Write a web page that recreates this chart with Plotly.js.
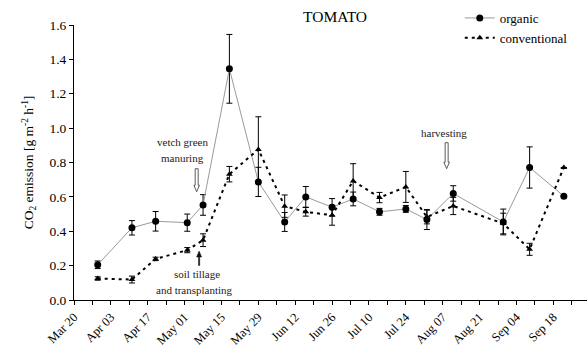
<!DOCTYPE html>
<html>
<head>
<meta charset="utf-8">
<script src="https://cdn.plot.ly/plotly-3.0.1.min.js"></script>
<style>html,body{margin:0;padding:0;background:#fff;}#chart{width:587px;height:354px;}</style>
</head>
<body>
<div id="chart"></div>
<script>
// Sampling dates
const organicDates = ['2009-03-29','2009-04-11','2009-04-20','2009-05-02','2009-05-08','2009-05-18','2009-05-29','2009-06-08','2009-06-16','2009-06-26','2009-07-04','2009-07-14','2009-07-24','2009-08-01','2009-08-11','2009-08-30','2009-09-09','2009-09-22'];
const organicValues = [0.205,0.42,0.458,0.45,0.553,1.345,0.687,0.454,0.600,0.540,0.588,0.513,0.530,0.468,0.620,0.454,0.771,0.604];
const organicErrors = [0.022,0.042,0.057,0.05,0.06,0.20,0.085,0.055,0.06,0.05,0.04,0.02,0.02,0.058,0.045,0.075,0.12,0];

const conventionalDates = organicDates;
const conventionalValues = [0.125,0.119,0.239,0.290,0.348,0.732,0.876,0.546,0.513,0.493,0.693,0.596,0.658,0.483,0.547,0.445,0.295,0.771];
const conventionalErrors = [0.01,0.02,0.01,0.015,0.037,0.045,0.19,0.065,0.025,0.058,0.10,0.03,0.09,0.04,0.05,0.06,0.035,0];

const yTicks = [0,0.2,0.4,0.6,0.8,1.0,1.2,1.4,1.6];

const font = "'Liberation Serif', 'Times New Roman', serif";

const traces = [
  {
    x: organicDates, y: organicValues, name: 'organic', type: 'scatter', mode: 'lines+markers',
    line: {color: '#9a9a9a', width: 1},
    marker: {symbol: 'circle', size: 7, color: '#000'},
    error_y: {type: 'data', array: organicErrors, visible: true, color: '#000', thickness: 1, width: 3}
  },
  {
    x: conventionalDates, y: conventionalValues, name: 'conventional', type: 'scatter', mode: 'lines+markers',
    line: {color: '#000', width: 2, dash: '3px,4px'},
    marker: {symbol: 'triangle-up', size: 6, color: '#000'},
    error_y: {type: 'data', array: conventionalErrors, visible: true, color: '#000', thickness: 1, width: 3}
  }
];

const noteFont = {family: font, size: 11, color: '#222'};
function note(text, x, y) {
  return {text: text, xref: 'x', yref: 'y', x: x, y: y, xanchor: 'center', yanchor: 'middle', showarrow: false, font: noteFont};
}
const hollowArrow = (len) => `M -1.5,${len} L 1.5,${len} L 1.5,6.5 L 2.8,6.5 L 0,0 L -2.8,6.5 L -1.5,6.5 Z`;

const layout = {
  width: 587, height: 354,
  margin: {l: 74, r: 0, t: 25, b: 54},
  paper_bgcolor: '#fff', plot_bgcolor: '#fff',
  font: {family: font, size: 13, color: '#000'},
  showlegend: true,
  legend: {x: 0.752, y: 1.08, xanchor: 'left', yanchor: 'top', bgcolor: 'rgba(0,0,0,0)',
    font: {family: font, size: 13, color: '#000'}, itemwidth: 30, tracegroupgap: 0},
  xaxis: {
    type: 'date',
    range: ['2009-03-20', '2009-09-30 19:00'],
    tick0: '2009-03-20', dtick: 14*86400000,
    tickformat: '%b %d', tickangle: -45,
    ticks: 'outside', ticklen: 4, tickcolor: '#000',
    minor: {dtick: 7*86400000, tick0: '2009-03-20', ticks: 'outside', ticklen: 4, tickcolor: '#000'},
    showline: true, linecolor: '#000', linewidth: 1,
    showgrid: false, zeroline: false,
    tickfont: {family: font, size: 12.5, color: '#000'}
  },
  yaxis: {
    range: [0, 1.6], tickvals: yTicks, tickformat: '.1f',
    ticks: 'outside', ticklen: 4, tickcolor: '#000',
    showline: true, linecolor: '#000', linewidth: 1,
    showgrid: false, zeroline: false,
    tickfont: {family: font, size: 13.5, color: '#000'},
    title: {text: 'CO<sub>2</sub> emission [g m<sup>-2</sup> h<sup>-1</sup>]', font: {family: font, size: 13.5, color: '#000'}, standoff: 12}
  },
  annotations: [
    {text: 'TOMATO', xref: 'paper', yref: 'paper', x: 0.509, y: 1.03, xanchor: 'center', yanchor: 'middle', showarrow: false, font: {family: font, size: 15.5, color: '#000'}},
    note('vetch green', '2009-04-30 03:00', 0.922),
    note('manuring', '2009-04-30 03:00', 0.824),
    note('soil tillage', '2009-05-05 15:00', 0.154),
    note('and transplanting', '2009-05-04 16:00', 0.061),
    note('harvesting', '2009-08-07 10:00', 0.969)
  ],
  shapes: [
    {type: 'path', xref: 'x', yref: 'y', xsizemode: 'pixel', ysizemode: 'pixel', xanchor: '2009-05-05 14:00', yanchor: 0.63,
      path: hollowArrow(23), line: {color: '#333', width: 0.8}, fillcolor: '#fff'},
    {type: 'path', xref: 'x', yref: 'y', xsizemode: 'pixel', ysizemode: 'pixel', xanchor: '2009-08-08 12:00', yanchor: 0.764,
      path: hollowArrow(26), line: {color: '#333', width: 0.8}, fillcolor: '#fff'},
    {type: 'path', xref: 'x', yref: 'y', xsizemode: 'pixel', ysizemode: 'pixel', xanchor: '2009-05-06 12:00', yanchor: 0.285,
      path: 'M 0,0 L 2.5,-6 L 0.6,-6 L 0.6,-14.5 L -0.6,-14.5 L -0.6,-6 L -2.5,-6 Z', line: {color: '#111', width: 0.5}, fillcolor: '#111'}
  ]
};

Plotly.newPlot('chart', traces, layout, {displayModeBar: false, staticPlot: true});
</script>
</body>
</html>
